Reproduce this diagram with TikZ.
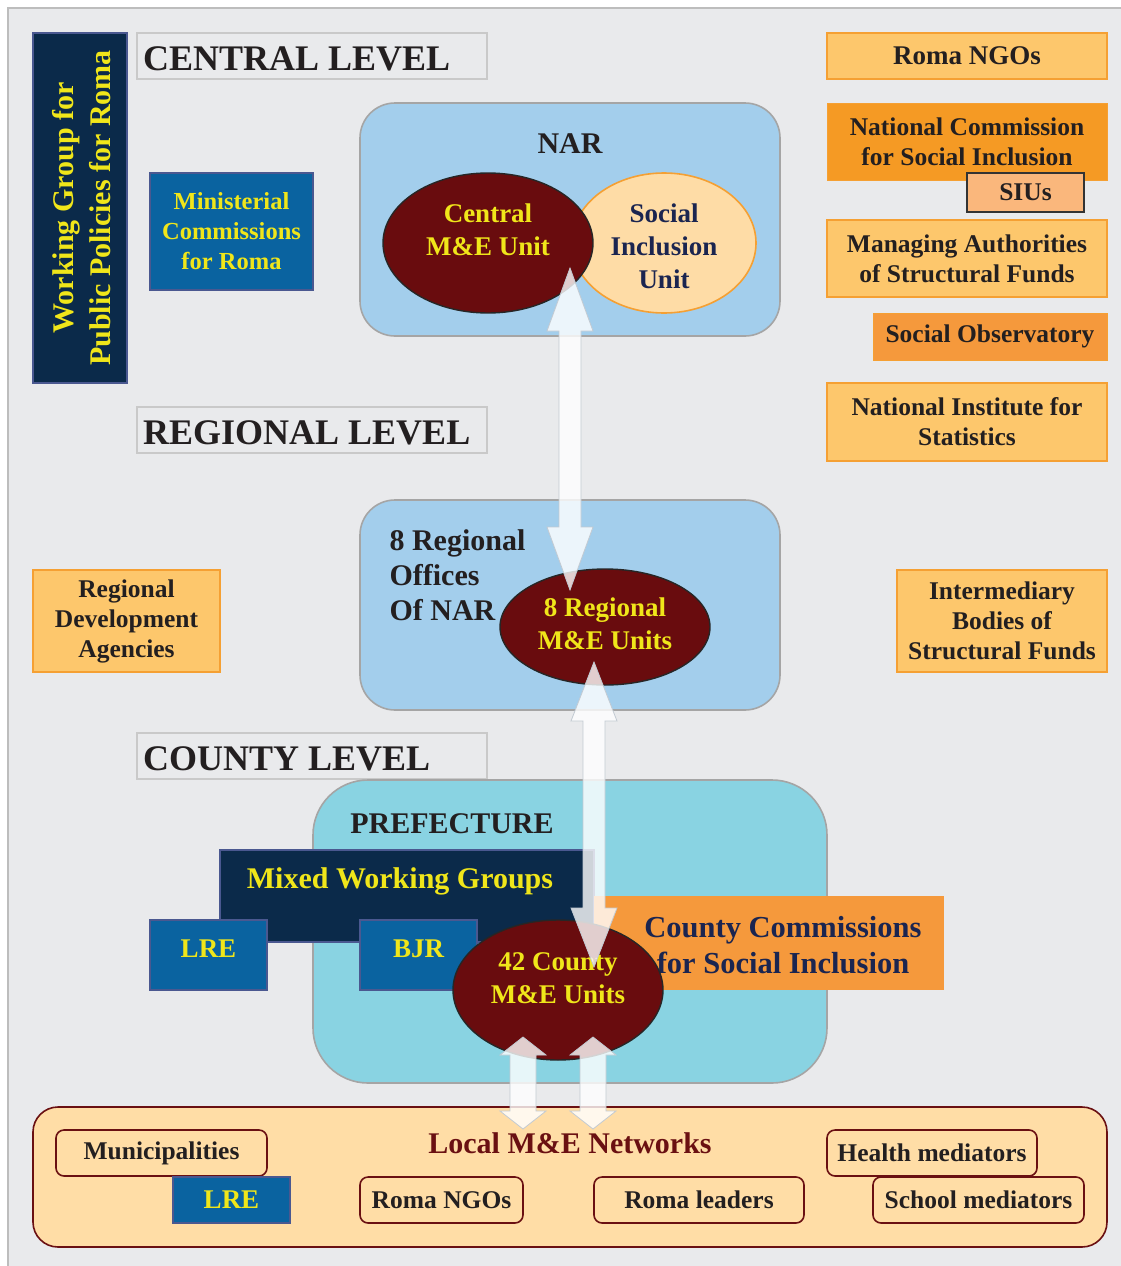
\documentclass[tikz,border=0pt]{standalone}
\usepackage{fontspec}
\setmainfont{Liberation Serif}
\usetikzlibrary{shapes.geometric}
\definecolor{bgc}{HTML}{E9EAEC}
\definecolor{framec}{HTML}{BDBDBD}
\definecolor{levelc}{HTML}{C9C9C9}
\definecolor{navyc}{HTML}{0B2A4A}
\definecolor{navyb}{HTML}{4A5890}
\definecolor{bluec}{HTML}{0A63A0}
\definecolor{yel}{HTML}{F0E61A}
\definecolor{narc}{HTML}{A3CEEC}
\definecolor{roundb}{HTML}{A5A5A5}
\definecolor{prefc}{HTML}{89D3E2}
\definecolor{brownc}{HTML}{690C0E}
\definecolor{creamc}{HTML}{FEDCA6}
\definecolor{orl}{HTML}{FDC76C}
\definecolor{orb}{HTML}{F5A033}
\definecolor{ord}{HTML}{F59A24}
\definecolor{oro}{HTML}{F5993C}
\definecolor{siuc}{HTML}{FAB77C}
\definecolor{localc}{HTML}{FFDDA6}
\definecolor{redc}{HTML}{6A1012}
\definecolor{txt}{HTML}{231F20}
\definecolor{navyt}{HTML}{1B2550}
\definecolor{arrb}{HTML}{C2CAD2}
\newcommand{\fsz}[2]{\fontsize{#1}{#2}\selectfont}
\newcommand{\dblarrow}[6]{%
  \draw[blockarrow] (#1,#2) -- ({#1+#6},{#2+#4}) -- ({#1+#5},{#2+#4}) -- ({#1+#5},{#3-#4}) -- ({#1+#6},{#3-#4}) -- (#1,#3) -- ({#1-#6},{#3-#4}) -- ({#1-#5},{#3-#4}) -- ({#1-#5},{#2+#4}) -- ({#1-#6},{#2+#4}) -- cycle;}
\begin{document}
\begin{tikzpicture}[x=1pt,y=-1pt,font=\bfseries,
  levelbox/.style={draw=levelc,line width=2pt,fill=bgc,minimum width=350pt,minimum height=46pt},
  leveltext/.style={text=txt,anchor=west,inner sep=0pt,font=\bfseries\fsz{36}{40}},
  navybox/.style={draw=navyb,line width=1.6pt,fill=navyc,text=yel,inner sep=0pt,align=center},
  bluebox/.style={draw=navyb,line width=1.6pt,fill=bluec,text=yel,inner sep=0pt,align=center},
  orbox/.style={draw=orb,line width=2pt,fill=orl,text=txt,inner sep=0pt,align=center,font=\bfseries\fsz{25.5}{30}},
  ordbox/.style={draw=orb,line width=1pt,fill=#1,text=txt,inner sep=0pt,align=center,font=\bfseries\fsz{25.5}{30}},
  roundbox/.style={draw=roundb,line width=1.6pt,rounded corners=#1},
  unit/.style={ellipse,draw=black!85,line width=1.4pt,fill=brownc,inner sep=0pt},
  unittext/.style={text=yel,align=center,font=\bfseries\fsz{27}{33}},
  localbox/.style={draw=redc,line width=1.6pt,fill=localc,rounded corners=8pt,text=txt,inner sep=0pt,minimum height=46pt,font=\bfseries\fsz{25.5}{30}},
  blockarrow/.style={draw=arrb,line width=0.8pt,fill=white,fill opacity=0.8,line join=miter}]
\useasboundingbox (0,0) rectangle (1121,1266);
\fill[white] (0,0) rectangle (1121,1266);
\fill[bgc] (8,8) rectangle (1121,1266);
\draw[framec,line width=1.6pt] (8,1266) -- (8,8) -- (1121,8);

% level labels
\node[levelbox] (central) at (312,56) {};
\node[leveltext] (centralt) at (143,59) {CENTRAL LEVEL};
\node[levelbox] (regional) at (312,430) {};
\node[leveltext] (regionalt) at (143,433) {REGIONAL LEVEL};
\node[levelbox] (county) at (312,756) {};
\node[leveltext] (countyt) at (143,759) {COUNTY LEVEL};

% left side
\node[navybox,minimum width=94pt,minimum height=350pt] (wg) at (80,208) {};
\node[text=yel,rotate=90,align=center,font=\bfseries\fsz{30}{37}] (wgt) at (82,208) {Working Group for\\Public Policies for Roma};
\node[bluebox,minimum width=163pt,minimum height=117pt,font=\bfseries\fsz{24.5}{30}] (min) at (231.5,231.5) {Ministerial\\Commissions\\for Roma};
\node[orbox,minimum width=187pt,minimum height=102pt] (rda) at (126.5,621) {Regional\\Development\\Agencies};

% right side
\node[orbox,minimum width=280pt,minimum height=46pt,font=\bfseries\fsz{27}{30}] (rngo) at (967,56) {Roma NGOs};
\node[ordbox=ord,minimum width=280pt,minimum height=77pt] (ncsi) at (967,141.5) {National Commission\\for Social Inclusion};
\node[draw=black!80,line width=1.6pt,fill=siuc,text=txt,inner sep=0pt,minimum width=117pt,minimum height=39pt,font=\bfseries\fsz{25.5}{30}] (siu) at (1025.5,192.5) {SIUs};
\node[orbox,minimum width=280pt,minimum height=77pt] (ma) at (967,258.5) {Managing Authorities\\of Structural Funds};
\node[ordbox=oro,minimum width=234pt,minimum height=47pt] (so) at (990,336.5) {Social Observatory};
\node[orbox,minimum width=280pt,minimum height=78pt] (nis) at (967,422) {National Institute for\\Statistics};
\node[orbox,minimum width=210pt,minimum height=102pt] (ib) at (1002,621) {Intermediary\\Bodies of\\Structural Funds};

% NAR
\draw[roundbox=35pt,fill=narc] (360,103) rectangle (780,336);
\node[text=txt,font=\bfseries\fsz{30}{34}] (nar) at (570,144) {NAR};
\node[ellipse,draw=orb,line width=1.6pt,fill=creamc,minimum width=184pt,minimum height=140pt,inner sep=0pt] (siunit) at (664,243) {};
\node[text=navyt,align=center,font=\bfseries\fsz{27}{33}] (siunitt) at (664,246) {Social\\Inclusion\\Unit};
\node[unit,minimum width=210pt,minimum height=140pt] (cme) at (488,243) {};
\node[unittext] (cmet) at (488,230) {Central\\M\&E Unit};

% Regional
\draw[roundbox=35pt,fill=narc] (360,500) rectangle (780,710);
\node[text=txt,align=left,anchor=west,font=\bfseries\fsz{30}{35}] (ro) at (386,575) {8 Regional\\Offices\\Of NAR};
\node[unit,minimum width=210pt,minimum height=116pt] (rme) at (605,627) {};
\node[unittext] (rmet) at (605,624) {8 Regional\\M\&E Units};

% County
\draw[roundbox=55pt,fill=prefc] (313,780) rectangle (827,1083);
\node[text=txt,font=\bfseries\fsz{30}{34}] (pref) at (452,824) {PREFECTURE};
\node[navybox,minimum width=374pt,minimum height=92pt] (mwg) at (407,896) {};
\node[text=yel,font=\bfseries\fsz{30}{34}] (mwgt) at (400,881) {Mixed Working Groups};
\node[bluebox,minimum width=117pt,minimum height=70pt] (lre) at (208.5,955) {};
\node[text=yel,font=\bfseries\fsz{27}{30}] (lret) at (208.5,949) {LRE};
\node[bluebox,minimum width=117pt,minimum height=70pt] (bjr) at (418.5,955) {};
\node[text=yel,font=\bfseries\fsz{27}{30}] (bjrt) at (418.5,949) {BJR};
\node[fill=oro,inner sep=0pt,minimum width=350pt,minimum height=94pt] (ccsi) at (769,943) {};
\node[text=navyt,align=center,font=\bfseries\fsz{30.5}{36}] (ccsit) at (783,945) {County Commissions\\for Social Inclusion};
\node[unit,minimum width=210pt,minimum height=140pt] (kme) at (558,990) {};
\node[unittext] (kmet) at (558,978) {42 County\\M\&E Units};

% Local
\draw[draw=redc,line width=1.6pt,fill=localc,rounded corners=25pt] (33,1107) rectangle (1107,1247);
\node[text=redc,font=\bfseries\fsz{30}{34}] (loc) at (570,1143) {Local M\&E Networks};
\node[localbox,minimum width=211pt] (mun) at (161.5,1153) {Municipalities};
\node[bluebox,minimum width=117pt,minimum height=46pt,font=\bfseries\fsz{27}{30}] (lre2) at (231.5,1200) {LRE};
\node[localbox,minimum width=163pt] (lngo) at (441.5,1200) {Roma NGOs};
\node[localbox,minimum width=210pt] (lead) at (699,1200) {Roma leaders};
\node[localbox,minimum width=210pt] (hm) at (932,1153) {Health mediators};
\node[localbox,minimum width=211pt] (sm) at (978.5,1200) {School mediators};

% arrows
\dblarrow{570}{268}{590}{63}{11}{23}
\dblarrow{594}{662}{967}{59}{11}{23}
\dblarrow{523}{1037}{1129}{18}{13}{23}
\dblarrow{593}{1037}{1129}{18}{13}{23}
\end{tikzpicture}
\end{document}
